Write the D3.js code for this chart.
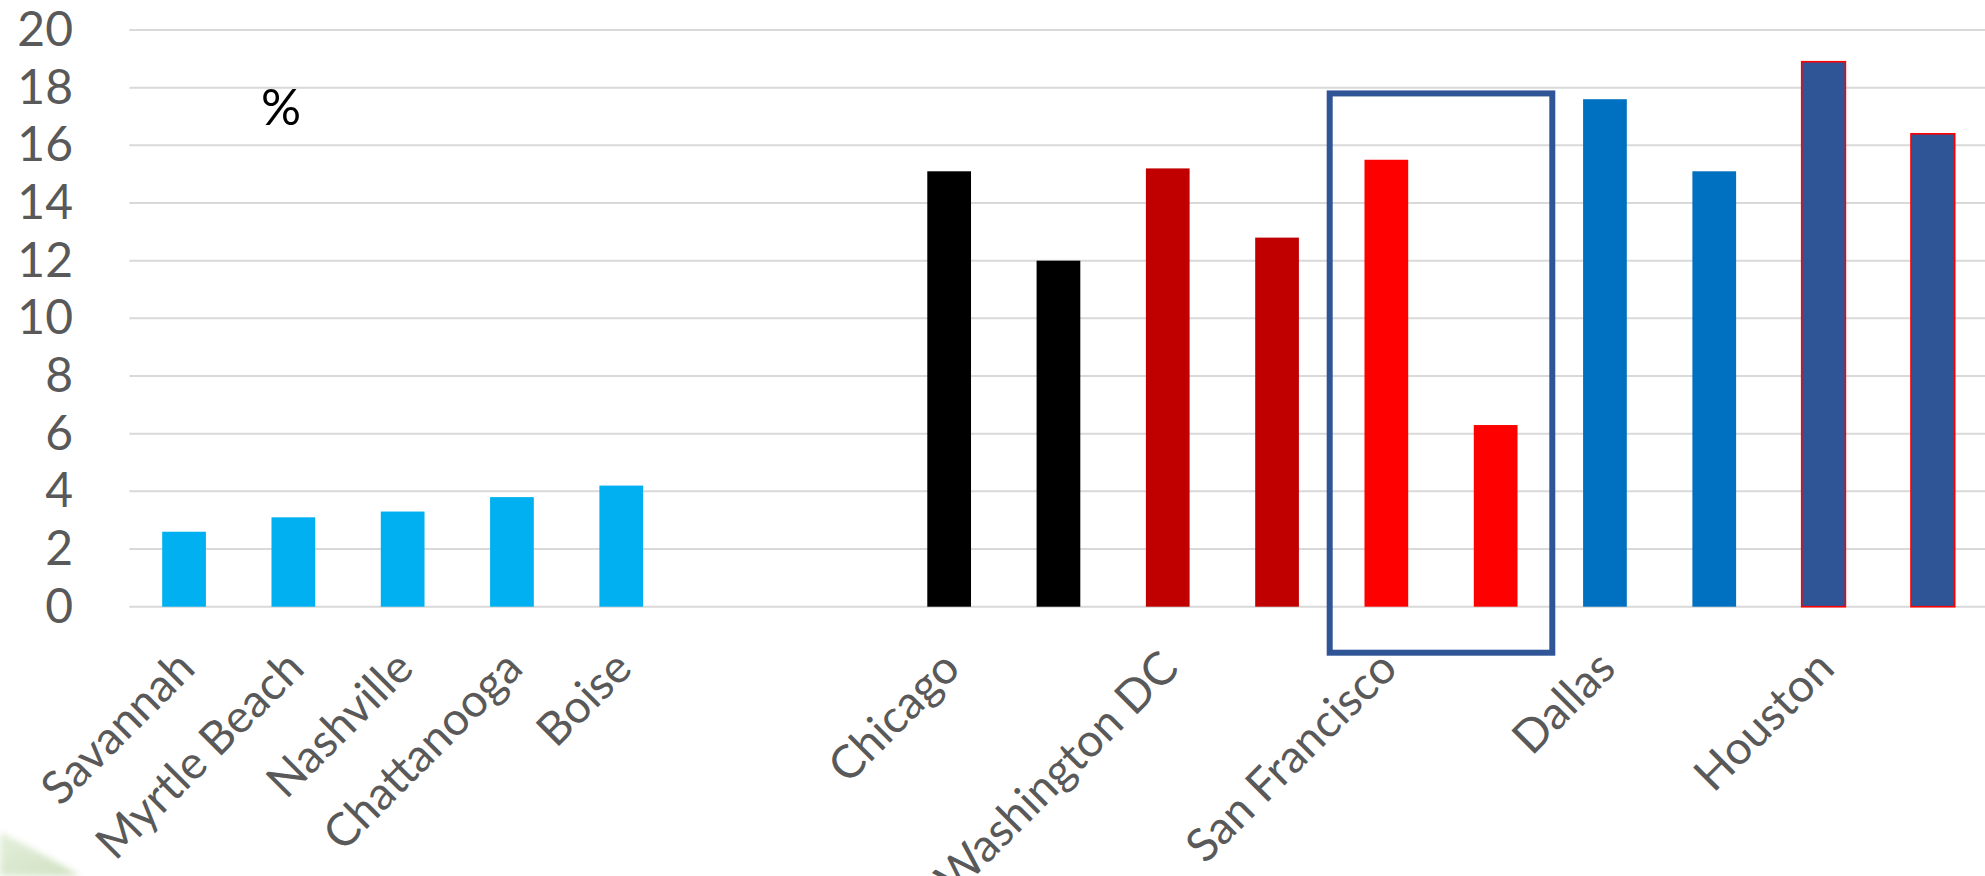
<!DOCTYPE html>
<html>
<head>
<meta charset="utf-8">
<script src="https://cdn.jsdelivr.net/npm/d3@7"></script>
<style>
  html, body { margin: 0; padding: 0; background: #ffffff; }
  svg { display: block; }
</style>
</head>
<body>
<svg id="chart" width="1985" height="876"></svg>
<script>
// ---- data ----------------------------------------------------------------
// 17 slots along the x axis; two empty slots separate the small cities
// from the paired bars of the large metros.
const slotIds = d3.range(17);
const cityLabels = ["Savannah", "Myrtle Beach", "Nashville", "Chattanooga", "Boise", "", "",
                    "Chicago", "", "Washington DC", "", "San Francisco", "", "Dallas", "", "Houston", ""];
const rates = [2.6, 3.1, 3.3, 3.8, 4.2, null, null,
               15.1, 12.0, 15.2, 12.8, 15.5, 6.3, 17.6, 15.1, 18.9, 16.4];
const groups = ["small", "small", "small", "small", "small", null, null,
                "chicago", "chicago", "dc", "dc", "sf", "sf", "dallas", "dallas", "houston", "houston"];
const yTicks = [0, 2, 4, 6, 8, 10, 12, 14, 16, 18, 20];
const unitLabel = "%";
const highlightedSlots = [11, 12];
const highlightTop = 17.8;

// ---- styles ----------------------------------------------------------------
const fillByGroup = {
  small: "#00B0F0", chicago: "#000000", dc: "#C00000",
  sf: "#FF0000", dallas: "#0070C0", houston: "#2F5597"
};
const strokeByGroup = { houston: "#FF0000" };
const labelColor = "#595959";
const gridColor = "#D9D9D9";
const fontFamily = "Lato, 'Open Sans', 'DejaVu Sans', sans-serif";

const svg = d3.select("#chart");

// faint remnant of a background photo in the lower-left corner
const defs = svg.append("defs");
const grad = defs.append("linearGradient").attr("id", "leaf")
  .attr("x1", "0").attr("y1", "0").attr("x2", "1").attr("y2", "1");
grad.append("stop").attr("offset", "0").attr("stop-color", "#cfe3bf");
grad.append("stop").attr("offset", "1").attr("stop-color", "#a9c98f");
defs.append("filter").attr("id", "soft")
  .append("feGaussianBlur").attr("stdDeviation", 3);
svg.append("path")
  .attr("d", "M0,832 C25,845 55,860 80,876 L0,876 Z")
  .attr("fill", "url(#leaf)").attr("opacity", 0.55).attr("filter", "url(#soft)");

// ---- scales ----------------------------------------------------------------
const plotLeft = 129.4, plotRight = 1987.5;
const x = d3.scaleBand()
  .domain(slotIds)
  .range([plotLeft, plotRight])
  .paddingInner(0.6)
  .paddingOuter(0.3);

const y = d3.scaleLinear()
  .domain([0, 20])
  .range([606.7, 30]);

// ---- gridlines ---------------------------------------------------------------
svg.append("g")
  .selectAll("line")
  .data(yTicks)
  .join("line")
  .attr("x1", plotLeft)
  .attr("x2", 1985)
  .attr("y1", d => y(d))
  .attr("y2", d => y(d))
  .attr("stroke", gridColor)
  .attr("stroke-width", 2);

// ---- y axis labels -----------------------------------------------------------
const yAxis = svg.append("g")
  .attr("transform", "translate(73,0)")
  .call(d3.axisLeft(y).tickValues(yTicks).tickSize(0).tickPadding(0).tickFormat(d3.format("d")));
yAxis.select(".domain").remove();
yAxis.selectAll("text")
  .attr("font-family", fontFamily)
  .attr("font-size", 48)
  .attr("fill", labelColor);

// ---- bars --------------------------------------------------------------------
const barData = slotIds.filter(i => rates[i] !== null);
svg.append("g")
  .selectAll("rect")
  .data(barData)
  .join("rect")
  .attr("x", i => x(i))
  .attr("width", x.bandwidth())
  .attr("y", i => y(rates[i]))
  .attr("height", i => y(0) - y(rates[i]))
  .attr("fill", i => fillByGroup[groups[i]])
  .attr("stroke", i => strokeByGroup[groups[i]] || "none")
  .attr("stroke-width", 1.6);

// ---- x axis category labels ------------------------------------------------
const labelled = slotIds.filter(i => cityLabels[i] !== "");
const xAxis = svg.append("g")
  .attr("transform", `translate(0,${y(0)})`)
  .call(d3.axisBottom(x).tickValues(labelled).tickSize(0).tickFormat(i => cityLabels[i]));
xAxis.select(".domain").remove();
xAxis.selectAll("text")
  .attr("font-family", fontFamily)
  .attr("font-size", 46)
  .attr("fill", labelColor)
  .attr("text-anchor", "end")
  .attr("x", 0).attr("y", 0).attr("dy", 0)
  .attr("transform", "translate(13,64) rotate(-45)");

// ---- unit label ----------------------------------------------------------------
svg.append("text")
  .attr("x", 281)
  .attr("y", 125)
  .attr("text-anchor", "middle")
  .attr("font-family", fontFamily)
  .attr("font-size", 50)
  .attr("fill", "#000000")
  .text(unitLabel);

// ---- highlight box around the San Francisco pair ----------------------------
const gap = x.step() - x.bandwidth();
const boxLeft = x(highlightedSlots[0]) - gap / 2 - 2;
const boxRight = x(highlightedSlots[highlightedSlots.length - 1]) + x.bandwidth() + gap / 2 + 2;
svg.append("rect")
  .attr("x", boxLeft)
  .attr("y", y(highlightTop))
  .attr("width", boxRight - boxLeft)
  .attr("height", y(0) + 46 - y(highlightTop))
  .attr("fill", "none")
  .attr("stroke", "#2F5597")
  .attr("stroke-width", 6);
</script>
</body>
</html>
